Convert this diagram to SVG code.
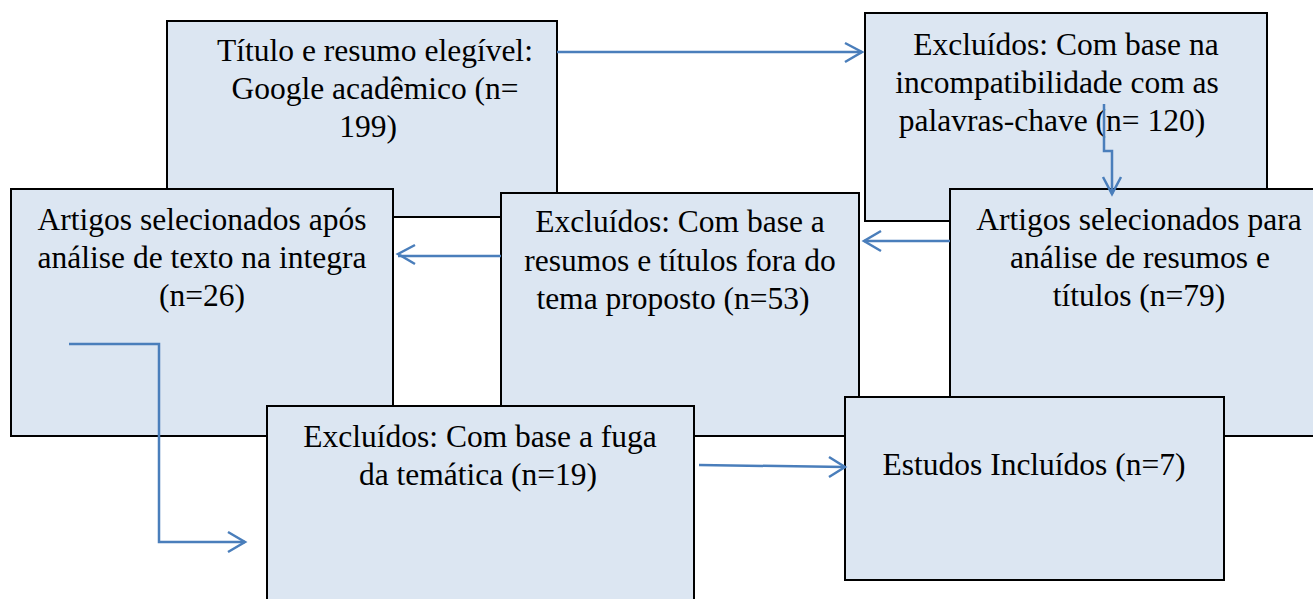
<svg xmlns="http://www.w3.org/2000/svg" width="1313" height="599" viewBox="0 0 1313 599">
<style>
.box{fill:#dce6f2;stroke:#000;stroke-width:2}
text{font-family:'Liberation Serif','Times New Roman',Times,serif;font-size:31.5px;fill:#000;text-anchor:middle}
.c{fill:none;stroke:#4a7ebb;stroke-width:2.5}
.ah{fill:none;stroke:#4a7ebb;stroke-width:2.5}
</style>
<rect width="1313" height="599" fill="#fff"/>
<g id="n1"><rect class="box" x="167" y="21" width="390" height="196"/>
<text x="375" y="61">Título e resumo elegível:</text>
<text x="375" y="99">Google acadêmico (n=</text>
<text x="368" y="137">199)</text></g>
<g id="n2"><rect class="box" x="865" y="13" width="402" height="208"/>
<text x="1066" y="55">Excluídos: Com base na</text>
<text x="1057" y="93">incompatibilidade com as</text>
<text x="1052" y="131">palavras-chave (n= 120)</text></g>
<g id="n3"><rect class="box" x="11" y="189" width="382" height="247"/>
<text x="202" y="230">Artigos selecionados após</text>
<text x="202" y="268">análise de texto na integra</text>
<text x="202" y="306">(n=26)</text></g>
<g id="n4"><rect class="box" x="501" y="193" width="358" height="243"/>
<text x="680" y="232">Excluídos: Com base a</text>
<text x="680" y="271">resumos e títulos fora do</text>
<text x="673" y="309">tema proposto (n=53)</text></g>
<g id="n5"><rect class="box" x="950" y="189" width="380" height="247"/>
<text x="1139" y="230">Artigos selecionados para</text>
<text x="1140" y="268">análise de resumos e</text>
<text x="1139" y="306">títulos (n=79)</text></g>
<g id="n6"><rect class="box" x="267" y="406" width="427" height="210"/>
<text x="480" y="447">Excluídos: Com base a fuga</text>
<text x="478" y="485">da temática (n=19)</text></g>
<g id="n7"><rect class="box" x="845" y="397" width="379" height="183"/>
<text x="1034" y="475">Estudos Incluídos (n=7)</text></g>
<g id="connectors">
<path class="c" d="M557 52 H862"/><path class="ah" d="M845 43 L862 52 L845 62"/>
<path class="c" d="M1104 104 V151 H1112 V194"/><path class="ah" d="M1103 177 L1112 194 L1121 177"/>
<path class="c" d="M950 241 H864"/><path class="ah" d="M881 231 L864 241 L881 251"/>
<path class="c" d="M501 256 H398"/><path class="ah" d="M415 245 L398 254 L415 264"/>
<path class="c" d="M69 344 H159 V542 H245"/><path class="ah" d="M228 532 L245 542 L228 552"/>
<path class="c" d="M699 465 L845 467"/><path class="ah" d="M829 457 L845 467 L829 477"/>
</g>
</svg>
